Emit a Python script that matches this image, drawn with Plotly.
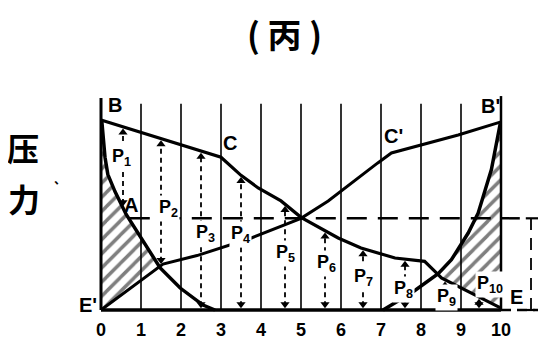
import numpy as np
import plotly.graph_objects as go

# pressure curves (x = position 0..10, p = pressure, B = 10)
fall_x = [0, 3, 3.5, 3.93, 4.5, 5.0, 5.93, 6.5, 7.35, 8.09, 8.43, 8.51, 10]
fall_p = [9.95, 8.0, 7.05, 6.39, 5.71, 4.85, 3.77, 3.25, 2.72, 2.55, 1.85, 1.68, 0.1]

rise_x = [0, 1.55, 2.4, 3.76, 5.0, 5.68, 6.92, 7.26, 8.93, 10]
rise_p = [0, 2.4, 2.85, 3.77, 4.8, 5.71, 7.7, 8.22, 9.16, 9.85]

steep_l_x = [0.02, 0.1, 0.17, 0.35, 0.63, 1.05, 1.48, 1.98, 2.55, 2.85]
steep_l_p = [9.9, 8.0, 7.1, 6.2, 5.0, 3.6, 2.2, 1.15, 0.26, 0]

steep_r_x = [7.05, 7.76, 8.43, 8.76, 9.18, 9.43, 9.76, 9.98]
steep_r_p = [0, 0.89, 1.9, 2.63, 4.03, 5.08, 7.35, 9.75]

# P1..P10 arrows
arrow_x = [0.55, 1.5, 2.5, 3.5, 4.6, 5.6, 6.55, 7.6, 8.6, 9.45]
arrow_names = ["P<sub>1</sub>", "P<sub>2</sub>", "P<sub>3</sub>", "P<sub>4</sub>", "P<sub>5</sub>",
               "P<sub>6</sub>", "P<sub>7</sub>", "P<sub>8</sub>", "P<sub>9</sub>", "P<sub>10</sub>"]
label_x = [0.5, 1.68, 2.6, 3.48, 4.6, 5.63, 6.55, 7.55, 8.63, 9.72]
label_p = [7.96, 5.34, 4.03, 3.93, 2.98, 2.46, 1.68, 1.05, 0.63, 1.31]

ticks = list(range(11))
tick_text = [str(t) for t in ticks]

mean_level = 4.8
grid_top = 10.8

points = ["B", "C", "C'", "B'", "A", "E'", "E"]
point_x = [0.35, 3.23, 7.3, 9.73, 0.75, -0.33, 10.38]
point_p = [10.73, 8.74, 9.1, 10.68, 5.5, 0.26, 0.7]

fig = go.Figure()

def crossing(xa, pa, xb, pb, lo, hi):
    xs = np.linspace(lo, hi, 4001)
    d = np.interp(xs, xa, pa) - np.interp(xs, xb, pb)
    i = np.where(np.sign(d[:-1]) != np.sign(d[1:]))[0][0]
    return xs[i], float(np.interp(xs[i], xa, pa))

hatch = dict(shape="/", fgcolor="black", bgcolor="white", size=10, solidity=0.35)

# left hatched area
xc, pc = crossing(steep_l_x, steep_l_p, rise_x, rise_p, 0.3, 2.5)
sx = [x for x in steep_l_x if x < xc]
sp = steep_l_p[:len(sx)]
rx = [x for x in rise_x if x < xc]
rp = rise_p[:len(rx)]
poly_x = [0] + sx + [xc] + rx[::-1]
poly_y = [steep_l_p[0]] + sp + [pc] + rp[::-1]
fig.add_trace(go.Scatter(x=poly_x, y=poly_y, fill="toself", mode="none",
                         fillcolor="white", fillpattern=hatch))

# right hatched area
xc2, pc2 = crossing(steep_r_x, steep_r_p, fall_x, fall_p, 8.0, 9.5)
sx = [x for x in steep_r_x if x > xc2]
sp = steep_r_p[-len(sx):]
fx = [x for x in fall_x if x > xc2]
fp = fall_p[-len(fx):]
poly_x = [xc2] + sx + [10, 10] + fx[::-1]
poly_y = [pc2] + sp + [steep_r_p[-1], fall_p[-1]] + fp[::-1]
fig.add_trace(go.Scatter(x=poly_x, y=poly_y, fill="toself", mode="none",
                         fillcolor="white", fillpattern=hatch))

# vertical grid lines
for t in ticks[1:-1]:
    fig.add_trace(go.Scatter(x=[t, t], y=[0, grid_top], mode="lines",
                             line=dict(color="black", width=1.6)))
fig.add_trace(go.Scatter(x=[0, 0], y=[0, 11.1], mode="lines", line=dict(color="black", width=3)))
fig.add_trace(go.Scatter(x=[10, 10], y=[0, 11.2], mode="lines", line=dict(color="black", width=2.5)))

# baseline and its dashed extension
fig.add_trace(go.Scatter(x=[0, 10], y=[0, 0], mode="lines", line=dict(color="black", width=3.5)))
fig.add_trace(go.Scatter(x=[10, 11.35], y=[0, 0], mode="lines",
                         line=dict(color="black", width=2.5, dash="10px,6px")))

# mean pressure level (dashed) and the bracket on the right
fig.add_trace(go.Scatter(x=[0.72, 10.47], y=[mean_level, mean_level], mode="lines",
                         line=dict(color="black", width=2.5, dash="20px,11px")))
fig.add_trace(go.Scatter(x=[10.75, 10.75], y=[0, mean_level], mode="lines",
                         line=dict(color="black", width=1.8, dash="12px,8px")))
fig.add_trace(go.Scatter(x=[10.62, 11.18], y=[mean_level, mean_level], mode="lines",
                         line=dict(color="black", width=2.2)))
fig.add_trace(go.Scatter(x=[10.65, 10.85], y=[0, 0], mode="lines",
                         line=dict(color="black", width=2.2)))

# pressure curves
fig.add_trace(go.Scatter(x=fall_x, y=fall_p, mode="lines", line=dict(color="black", width=3.2)))
fig.add_trace(go.Scatter(x=rise_x, y=rise_p, mode="lines", line=dict(color="black", width=3)))
fig.add_trace(go.Scatter(x=steep_l_x, y=steep_l_p, mode="lines", line=dict(color="black", width=3.5)))
fig.add_trace(go.Scatter(x=steep_r_x, y=steep_r_p, mode="lines", line=dict(color="black", width=3.5)))

# arrows P1..P10
tops = np.interp(arrow_x, fall_x, fall_p)
bottoms = [0.0] * len(arrow_x)
bottoms[0] = float(np.interp(arrow_x[0], steep_l_x, steep_l_p))
bottoms[1] = float(np.interp(arrow_x[1], rise_x, rise_p))
for ax_, t, b in zip(arrow_x, tops, bottoms):
    fig.add_trace(go.Scatter(x=[ax_, ax_], y=[b + 0.2, t - 0.2], mode="lines",
                             line=dict(color="black", width=1.8, dash="5px,4px")))
    fig.add_trace(go.Scatter(x=[ax_], y=[t - 0.3], mode="markers",
                             marker=dict(symbol="triangle-up", size=8, color="black")))
    fig.add_trace(go.Scatter(x=[ax_], y=[b + 0.3], mode="markers",
                             marker=dict(symbol="triangle-down", size=8, color="black")))

font = dict(family="Liberation Sans", size=18, color="black", weight="bold")
for name, x, p in zip(arrow_names, label_x, label_p):
    fig.add_annotation(x=x, y=p, text=name, showarrow=False, font=font, bgcolor="white")
for name, x, p in zip(points, point_x, point_p):
    fig.add_annotation(x=x, y=p, text=name, showarrow=False, font=dict(font, size=20))
for t, s in zip(ticks, tick_text):
    fig.add_annotation(x=t, y=-1.05, text=s, showarrow=False, font=dict(font, size=18))

cjk = dict(family="Noto Sans CJK SC", size=32, color="black", weight="bold")
fig.add_annotation(x=4.58, y=14.45, text="( 丙 )", showarrow=False, font=dict(cjk, size=34))
fig.add_annotation(x=-1.95, y=8.55, text="压", showarrow=False, font=cjk)
fig.add_annotation(x=-1.92, y=5.85, text="力", showarrow=False, font=cjk)
fig.add_annotation(x=-1.02, y=6.9, text="、", showarrow=False, font=dict(cjk, size=12))

fig.update_layout(
    width=546, height=339,
    margin=dict(l=0, r=0, t=0, b=0),
    paper_bgcolor="white", plot_bgcolor="white",
    showlegend=False,
    xaxis=dict(range=[-2.325, 11.325], visible=False, fixedrange=True),
    yaxis=dict(range=[-1.937, 15.81], visible=False, fixedrange=True),
)

fig.write_html("out.html")
